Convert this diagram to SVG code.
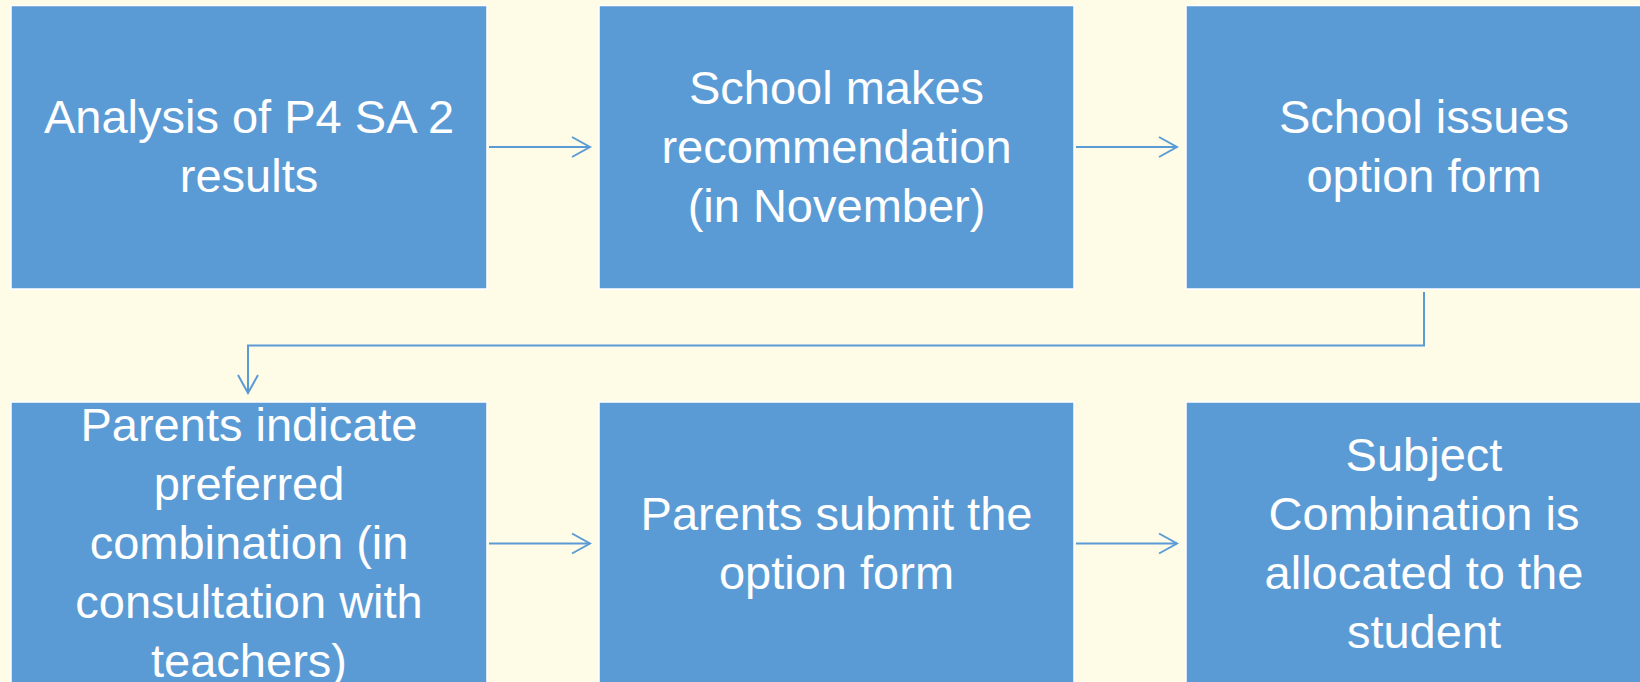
<svg xmlns="http://www.w3.org/2000/svg" width="1640" height="682" viewBox="0 0 1640 682">
<style>
.box{fill:#5B9BD5;stroke:#FFFFFF;stroke-width:1.5}
.lbl{fill:#FFFFFF;font-family:"Liberation Sans",Arial,sans-serif;font-size:47px;text-anchor:middle}
.con{fill:none;stroke:#5B9BD5;stroke-width:2}
</style>
<defs>
<marker id="arr" markerWidth="22" markerHeight="24" refX="20" refY="12" orient="auto" markerUnits="userSpaceOnUse">
<path d="M2,2 L20,12 L2,22" fill="none" stroke="#5B9BD5" stroke-width="2"/>
</marker>
</defs>
<rect width="1640" height="682" fill="#FEFBE7"/>
<g id="n1"><rect class="box" x="11" y="5.5" width="476" height="283.5"/>
<text class="lbl" x="249" y="133">Analysis of P4 SA 2</text><text class="lbl" x="249" y="192">results</text></g>
<g id="n2"><rect class="box" x="599" y="5.5" width="475" height="283.5"/>
<text class="lbl" x="836.5" y="103.5">School makes</text><text class="lbl" x="836.5" y="162.5">recommendation</text><text class="lbl" x="836.5" y="221.5">(in November)</text></g>
<g id="n3"><rect class="box" x="1186" y="5.5" width="476" height="283.5"/>
<text class="lbl" x="1424" y="133">School issues</text><text class="lbl" x="1424" y="192">option form</text></g>
<g id="n4"><rect class="box" x="11" y="402" width="476" height="284"/>
<text class="lbl" x="249" y="441">Parents indicate</text><text class="lbl" x="249" y="500">preferred</text><text class="lbl" x="249" y="559">combination (in</text><text class="lbl" x="249" y="618">consultation with</text><text class="lbl" x="249" y="677">teachers)</text></g>
<g id="n5"><rect class="box" x="599" y="402" width="475" height="284"/>
<text class="lbl" x="836.5" y="529.5">Parents submit the</text><text class="lbl" x="836.5" y="588.5">option form</text></g>
<g id="n6"><rect class="box" x="1186" y="402" width="476" height="284"/>
<text class="lbl" x="1424" y="470.5">Subject</text><text class="lbl" x="1424" y="529.5">Combination is</text><text class="lbl" x="1424" y="588.5">allocated to the</text><text class="lbl" x="1424" y="647.5">student</text></g>
<g id="connectors">
<path class="con" d="M489,147 H590" marker-end="url(#arr)"/>
<path class="con" d="M1076,147 H1177" marker-end="url(#arr)"/>
<path class="con" d="M1424,292 V345.5 H248 V393" marker-end="url(#arr)"/>
<path class="con" d="M489,543.5 H590" marker-end="url(#arr)"/>
<path class="con" d="M1076,543.5 H1177" marker-end="url(#arr)"/>
</g>
</svg>
